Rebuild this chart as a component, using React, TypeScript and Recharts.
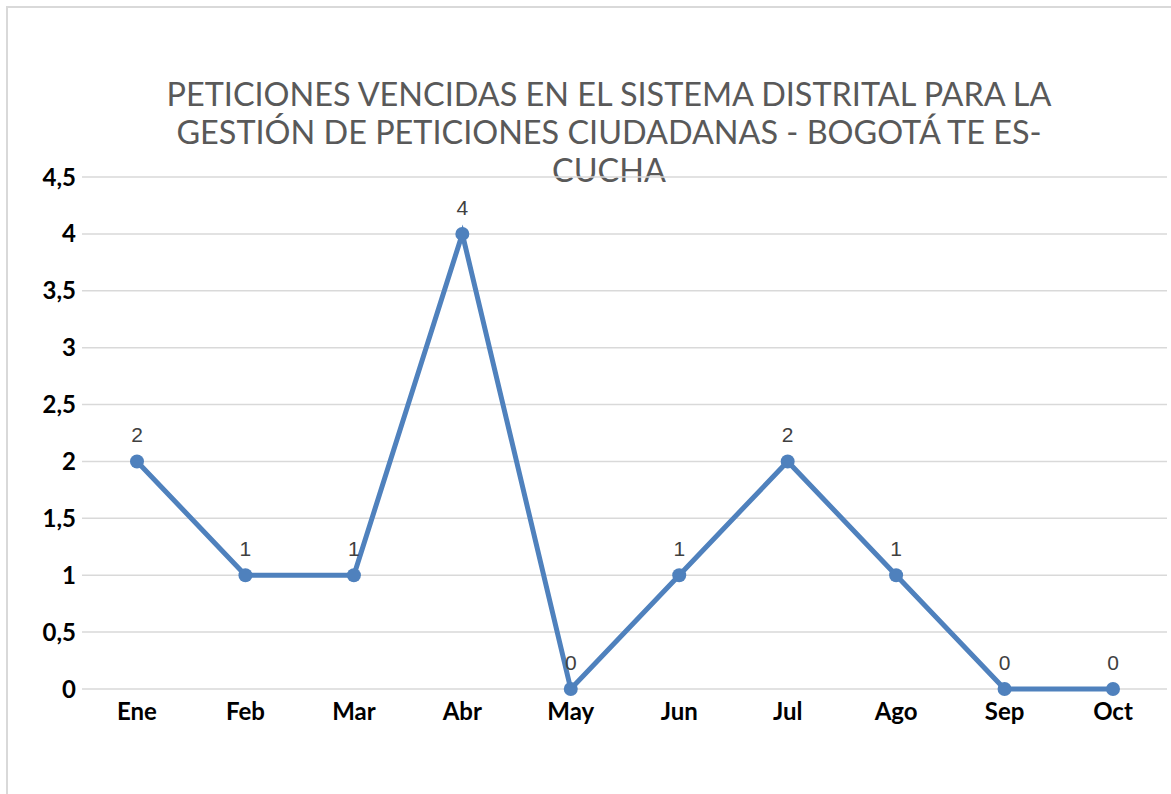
import React from 'react';
import { LineChart, Line, XAxis, YAxis, CartesianGrid, LabelList } from 'recharts';

const months = ['Ene', 'Feb', 'Mar', 'Abr', 'May', 'Jun', 'Jul', 'Ago', 'Sep', 'Oct'];
const vencidas = [2, 1, 1, 4, 0, 1, 2, 1, 0, 0];
const yTicks = [0, 0.5, 1, 1.5, 2, 2.5, 3, 3.5, 4, 4.5];
const titleLines = [
  'PETICIONES VENCIDAS EN EL SISTEMA DISTRITAL PARA LA',
  'GESTIÓN DE PETICIONES CIUDADANAS - BOGOTÁ TE ES-',
  'CUCHA',
];

const data = months.map((m, i) => ({ mes: m, valor: vencidas[i] }));

export default function App() {
  return (
    <div style={{ position: 'absolute', left: 0, top: 0, width: 1171, height: 794, background: '#fff', overflow: 'hidden' }}>
      <div
        style={{
          position: 'absolute',
          left: 6,
          top: 6,
          width: 1200,
          height: 820,
          border: '2px solid #d9d9d9',
          boxSizing: 'border-box',
        }}
      />
      <div
        style={{
          position: 'absolute',
          left: 0,
          top: 75,
          width: 1218,
          textAlign: 'center',
          fontFamily: 'Lato, sans-serif',
          fontSize: 32.4,
          lineHeight: '38px',
          color: '#595959',
        }}
      >
        {titleLines.map((t) => (
          <div key={t}>{t}</div>
        ))}
      </div>
      <div style={{ position: 'absolute', left: 0, top: 0 }}>
        <LineChart width={1171} height={794} data={data} margin={{ top: 177, right: 4, left: 0, bottom: 75 }}>
          <CartesianGrid vertical={false} stroke="#d9d9d9" strokeWidth={1.5} />
          <XAxis
            dataKey="mes"
            height={30}
            padding={{ left: 55, right: 54 }}
            axisLine={false}
            tickLine={false}
            tickMargin={8}
            tick={{ fontFamily: 'Lato, sans-serif', fontSize: 24, fontWeight: 700, fill: '#000' }}
            interval={0}
          />
          <YAxis
            width={82}
            domain={[0, 4.5]}
            ticks={yTicks}
            axisLine={false}
            tickLine={false}
            tickMargin={0}
            tickFormatter={(v: number) => String(v).replace('.', ',')}
            tick={{ fontFamily: 'Lato, sans-serif', fontSize: 24, fontWeight: 700, fill: '#000' }}
          />
          <Line
            type="linear"
            dataKey="valor"
            stroke="#4f81bd"
            strokeWidth={5}
            dot={{ r: 7, fill: '#4f81bd', stroke: '#4f81bd', strokeWidth: 0 }}
            isAnimationActive={false}
          >
            <LabelList
              dataKey="valor"
              position="top"
              offset={19}
              style={{ fontFamily: '"Liberation Sans", Arial, sans-serif', fontSize: 21, fill: '#404040' }}
            />
          </Line>
        </LineChart>
      </div>
    </div>
  );
}
